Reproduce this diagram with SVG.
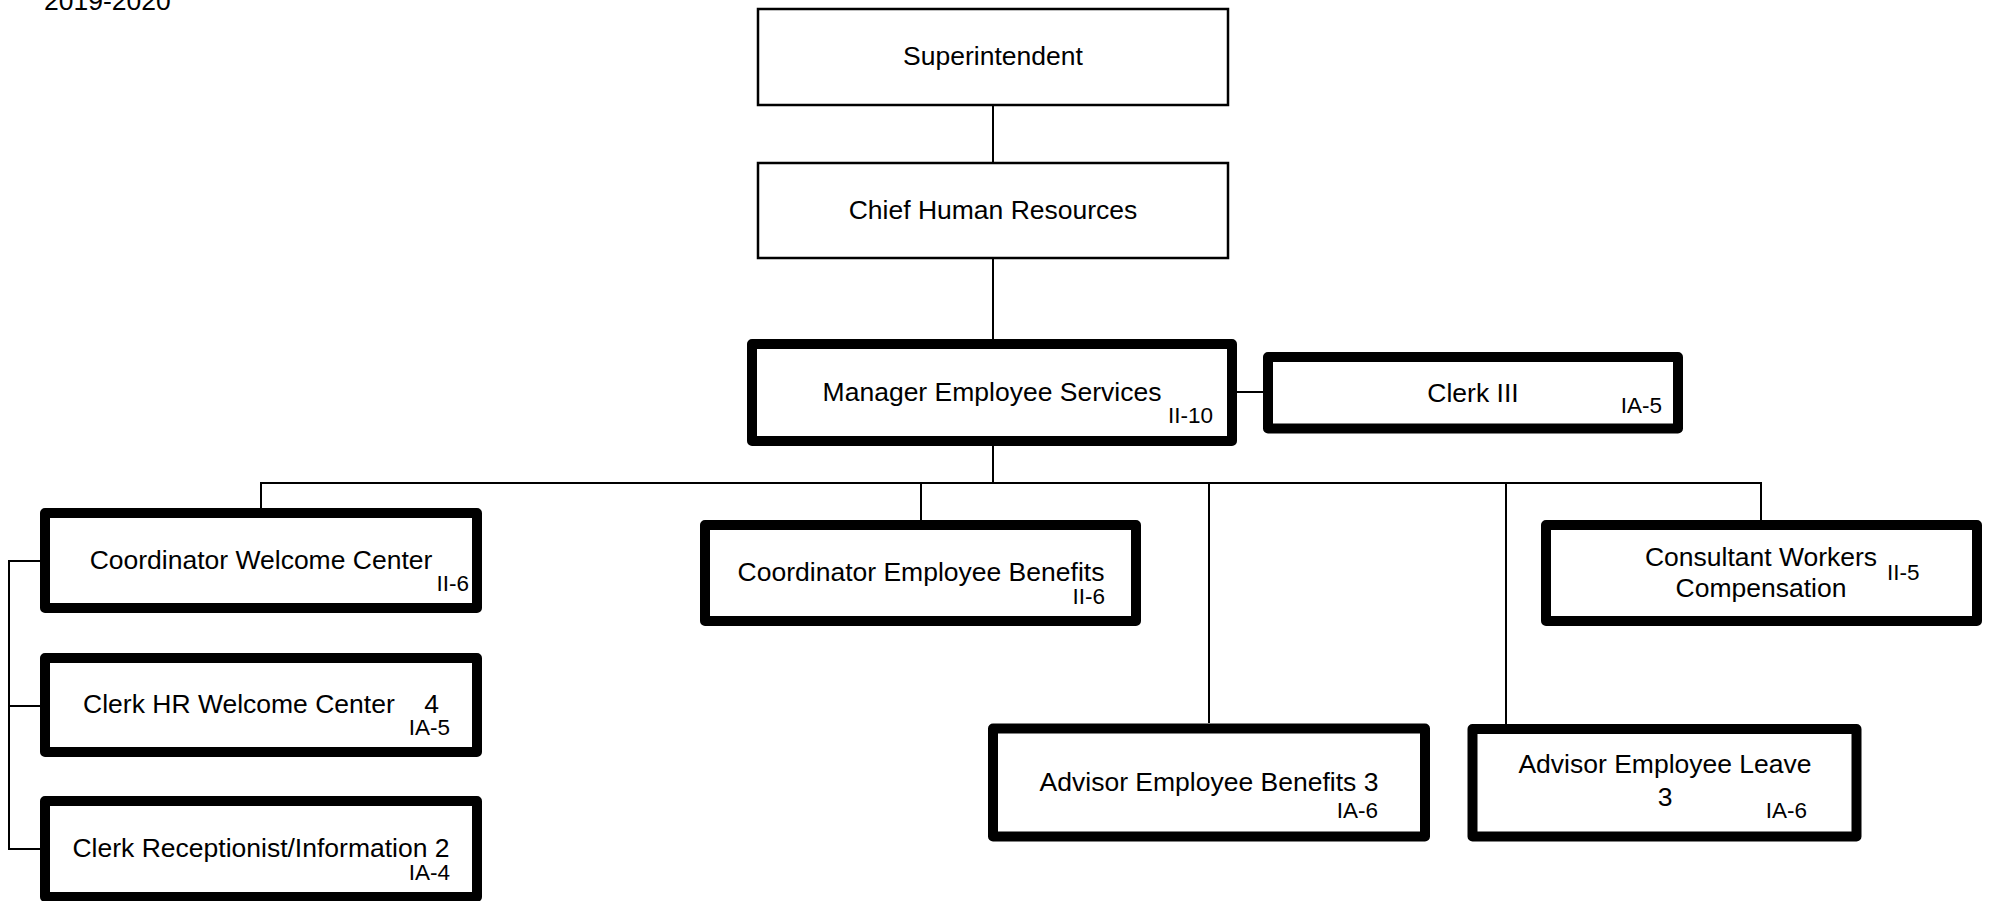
<svg xmlns="http://www.w3.org/2000/svg" width="1990" height="901" viewBox="0 0 1990 901">
<style>
.thin{fill:#fff;stroke:#000;stroke-width:2.5}
.thick{fill:#fff;stroke:#000;stroke-width:10;stroke-linejoin:round}
.conn{fill:none;stroke:#000;stroke-width:2}
text{font-family:"Liberation Sans",Arial,sans-serif;font-size:26.5px;fill:#000}
.c{text-anchor:middle}
.g{font-size:22.5px;text-anchor:end}
.gs{font-size:22.5px;text-anchor:start}
</style>
<rect width="1990" height="901" fill="#fff"/>
<text x="44" y="10">2019-2020</text>
<g id="connectors">
<path class="conn" d="M993,106V162"/>
<path class="conn" d="M993,258V339"/>
<path class="conn" d="M1237,392H1263"/>
<path class="conn" d="M993,446V483"/>
<path class="conn" d="M260,483H1762"/>
<path class="conn" d="M261,483V508"/>
<path class="conn" d="M921,483V520"/>
<path class="conn" d="M1209,483V723"/>
<path class="conn" d="M1506,483V724"/>
<path class="conn" d="M1761,483V520"/>
<path class="conn" d="M40,561H9V849H40"/>
<path class="conn" d="M9,706H40"/>
</g>
<g id="superintendent">
<rect class="thin" x="758" y="9" width="470" height="96"/>
<text class="c" x="993" y="65">Superintendent</text>
</g>
<g id="chief">
<rect class="thin" x="758" y="163" width="470" height="95"/>
<text class="c" x="993" y="219">Chief Human Resources</text>
</g>
<g id="manager">
<rect class="thick" x="752" y="344" width="480" height="97"/>
<text class="c" x="992" y="401">Manager Employee Services</text>
<text class="g" x="1213" y="423">II-10</text>
</g>
<g id="clerk3">
<rect class="thick" x="1268" y="357" width="410" height="71.5"/>
<text class="c" x="1473" y="402">Clerk III</text>
<text class="g" x="1662" y="413">IA-5</text>
</g>
<g id="coordWelcome">
<rect class="thick" x="45" y="513" width="432" height="95"/>
<text class="c" x="261" y="569">Coordinator Welcome Center</text>
<text class="g" x="469" y="591">II-6</text>
</g>
<g id="clerkHR">
<rect class="thick" x="45" y="658" width="432" height="94"/>
<text class="c" x="261" y="713" xml:space="preserve">Clerk HR Welcome Center    4</text>
<text class="g" x="450" y="735">IA-5</text>
</g>
<g id="clerkRecep">
<rect class="thick" x="45" y="801" width="432" height="96"/>
<text class="c" x="261" y="857">Clerk Receptionist/Information 2</text>
<text class="g" x="450" y="880">IA-4</text>
</g>
<g id="coordBenefits">
<rect class="thick" x="705" y="525" width="431" height="96"/>
<text class="c" x="921" y="581">Coordinator Employee Benefits</text>
<text class="g" x="1105" y="604">II-6</text>
</g>
<g id="consultant">
<rect class="thick" x="1546" y="525" width="431" height="96"/>
<text class="c" x="1761" y="566">Consultant Workers</text>
<text class="c" x="1761" y="597">Compensation</text>
<text class="gs" x="1887" y="580">II-5</text>
</g>
<g id="advisorBenefits">
<rect class="thick" x="993" y="728.5" width="432" height="108"/>
<text class="c" x="1209" y="791">Advisor Employee Benefits 3</text>
<text class="g" x="1378" y="818">IA-6</text>
</g>
<g id="advisorLeave">
<rect class="thick" x="1472.5" y="729" width="384" height="107.5"/>
<text class="c" x="1665" y="773">Advisor Employee Leave</text>
<text class="c" x="1665" y="806">3</text>
<text class="g" x="1807" y="818">IA-6</text>
</g>
</svg>
